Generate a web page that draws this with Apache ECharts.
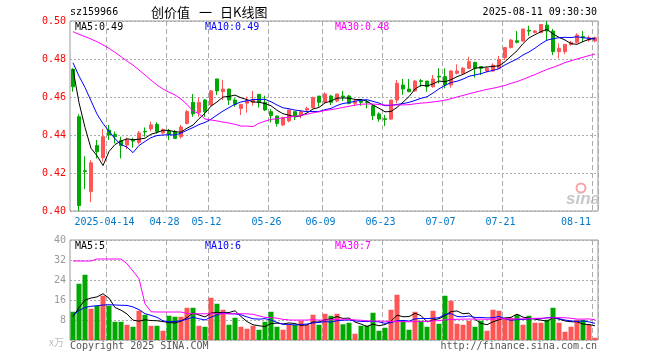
<!DOCTYPE html>
<html><head><meta charset="utf-8">
<script src="https://cdn.jsdelivr.net/npm/echarts@6/dist/echarts.min.js"></script>
<style>html,body{margin:0;padding:0;background:#fff}#c{width:660px;height:360px}</style>
</head><body><div id="c"></div>
<script>
// ---- data ----
const dates = [
 '2025-04-03','2025-04-07','2025-04-08','2025-04-09','2025-04-10','2025-04-11',
 '2025-04-14','2025-04-15','2025-04-16','2025-04-17','2025-04-18',
 '2025-04-21','2025-04-22','2025-04-23','2025-04-24','2025-04-25',
 '2025-04-28','2025-04-29','2025-04-30','2025-05-06','2025-05-07','2025-05-08','2025-05-09',
 '2025-05-12','2025-05-13','2025-05-14','2025-05-15','2025-05-16',
 '2025-05-19','2025-05-20','2025-05-21','2025-05-22','2025-05-23',
 '2025-05-26','2025-05-27','2025-05-28','2025-05-29','2025-05-30',
 '2025-06-03','2025-06-04','2025-06-05','2025-06-06',
 '2025-06-09','2025-06-10','2025-06-11','2025-06-12','2025-06-13',
 '2025-06-16','2025-06-17','2025-06-18','2025-06-19','2025-06-20',
 '2025-06-23','2025-06-24','2025-06-25','2025-06-26','2025-06-27',
 '2025-06-30','2025-07-01','2025-07-02','2025-07-03','2025-07-04',
 '2025-07-07','2025-07-08','2025-07-09','2025-07-10','2025-07-11',
 '2025-07-14','2025-07-15','2025-07-16','2025-07-17','2025-07-18',
 '2025-07-21','2025-07-22','2025-07-23','2025-07-24','2025-07-25',
 '2025-07-28','2025-07-29','2025-07-30','2025-07-31','2025-08-01',
 '2025-08-04','2025-08-05','2025-08-06','2025-08-07','2025-08-08',
 '2025-08-11'
];
const openP = [
 0.4746,0.4496,0.4212,0.4102,0.4344,0.4281,0.4426,0.4403,0.4370,0.4347,
 0.4375,0.4361,0.4419,0.4432,0.4456,0.4411,0.4421,0.4418,0.4391,0.4461,
 0.4572,0.4519,0.4584,0.4558,0.4695,0.4628,0.4642,0.4584,0.4540,0.4567,
 0.4572,0.4614,0.4572,0.4523,0.4500,0.4453,0.4474,0.4523,0.4505,0.4532,
 0.4544,0.4605,0.4572,0.4605,0.4579,0.4605,0.4605,0.4567,0.4579,0.4574,
 0.4554,0.4511,0.4486,0.4484,0.4584,0.4663,0.4642,0.4632,0.4686,0.4684,
 0.4654,0.4709,0.4707,0.4663,0.4725,0.4725,0.4751,0.4782,0.4760,0.4737,
 0.4737,0.4751,0.4807,0.4860,0.4896,0.4895,0.4951,0.4940,0.4940,0.4979,
 0.4947,0.4839,0.4839,0.4877,0.4888,0.4918,0.4900,0.4895
];
const closeP = [
 0.4654,0.4028,0.4208,0.4254,0.4312,0.4391,0.4400,0.4391,0.4344,0.4374,
 0.4368,0.4411,0.4416,0.4453,0.4418,0.4428,0.4404,0.4382,0.4442,0.4523,
 0.4511,0.4572,0.4523,0.4632,0.4632,0.4642,0.4584,0.4561,0.4561,0.4581,
 0.4584,0.4572,0.4532,0.4502,0.4461,0.4491,0.4532,0.4496,0.4523,0.4540,
 0.4596,0.4572,0.4616,0.4572,0.4616,0.4600,0.4567,0.4579,0.4572,0.4570,
 0.4502,0.4484,0.4482,0.4584,0.4672,0.4642,0.4628,0.4684,0.4682,0.4654,
 0.4695,0.4705,0.4663,0.4737,0.4737,0.4751,0.4786,0.4751,0.4751,0.4751,
 0.4768,0.4798,0.4860,0.4900,0.4888,0.4958,0.4947,0.4947,0.4982,0.4947,
 0.4839,0.4856,0.4877,0.4888,0.4926,0.4912,0.4912,0.4912
];
const lowP = [
 0.4628,0.4000,0.4116,0.4046,0.4277,0.4260,0.4374,0.4356,0.4277,0.4326,
 0.4333,0.4351,0.4391,0.4418,0.4407,0.4404,0.4374,0.4379,0.4382,0.4456,
 0.4496,0.4496,0.4496,0.4554,0.4611,0.4584,0.4558,0.4549,0.4505,0.4518,
 0.4554,0.4544,0.4526,0.4467,0.4444,0.4447,0.4467,0.4479,0.4488,0.4523,
 0.4540,0.4549,0.4567,0.4558,0.4572,0.4579,0.4561,0.4554,0.4554,0.4540,
 0.4479,0.4470,0.4447,0.4479,0.4567,0.4611,0.4625,0.4628,0.4654,0.4628,
 0.4649,0.4672,0.4646,0.4649,0.4719,0.4718,0.4747,0.4702,0.4716,0.4730,
 0.4733,0.4747,0.4795,0.4856,0.4882,0.4891,0.4923,0.4935,0.4935,0.4900,
 0.4821,0.4804,0.4825,0.4870,0.4882,0.4888,0.4891,0.4888
];
const highP = [
 0.4751,0.4509,0.4288,0.4268,0.4374,0.4432,0.4453,0.4418,0.4391,0.4386,
 0.4386,0.4421,0.4440,0.4470,0.4467,0.4435,0.4432,0.4426,0.4453,0.4532,
 0.4616,0.4598,0.4589,0.4637,0.4695,0.4689,0.4642,0.4593,0.4561,0.4602,
 0.4632,0.4614,0.4607,0.4537,0.4502,0.4496,0.4532,0.4523,0.4532,0.4549,
 0.4602,0.4605,0.4625,0.4611,0.4616,0.4632,0.4611,0.4589,0.4589,0.4584,
 0.4561,0.4519,0.4505,0.4584,0.4689,0.4695,0.4695,0.4689,0.4695,0.4684,
 0.4716,0.4751,0.4751,0.4742,0.4772,0.4758,0.4812,0.4786,0.4763,0.4760,
 0.4777,0.4816,0.4860,0.4905,0.4947,0.4958,0.4975,0.4953,0.4982,0.5000,
 0.4958,0.4882,0.4877,0.4895,0.4935,0.4947,0.4923,0.4917
];
// volume, in 万
const volume = [
 11.3,22.5,26.1,12.5,13.7,17.7,13.7,7.3,7.3,6.1,
 5.3,11.7,10.1,5.7,5.7,3.7,9.7,9.3,9.3,12.9,
 12.9,5.7,5.3,16.9,14.5,12.1,6.1,8.9,5.3,4.5,
 5.7,4.1,7.3,11.3,5.3,4.1,6.1,6.1,7.7,6.1,
 10.1,6.1,10.5,9.7,10.5,6.3,6.9,2.5,5.7,5.7,
 10.9,3.7,4.9,12.1,18.1,7.7,4.1,11.3,7.7,5.3,
 11.7,6.5,17.7,15.7,6.5,6.1,7.7,5.3,7.7,3.7,
 12.1,11.7,8.9,8.9,10.1,6.1,9.7,6.9,6.9,8.1,
 12.9,6.9,3.3,5.3,8.1,8.1,6.1,0.9
];
// moving-average values for the first days (prior history not shown)
const ma5Head = [0.4746,0.4570,0.4440,0.4330];
const ma10Head = [0.4780,0.4710,0.4650,0.4580,0.4510,0.4460,0.4420,0.4380,0.4350];
const ma30Head = [0.4944,0.4930,0.4918,0.4905,0.4891,0.4874,0.4856,0.4835,0.4812,0.4789,
 0.4768,0.4742,0.4716,0.4689,0.4663,0.4642,0.4625,0.4611,0.4589,0.4561,
 0.4526,0.4512,0.4484,0.4479,0.4474,0.4468,0.4463,0.4456,0.4447];
const volMa5Head = [9.3,13.0,16.0,16.8];
const volMa10Head = [10.0,11.8,13.0,13.5,13.7,14.0,14.1,14.0,13.9];
const volMa30Head = [31.6,31.6,31.6,31.6,32.4,32.4,32.4,32.4,32.4,30.5,
 27.6,24.5,14.5,11.3,11.2,11.2,11.2,11.2,11.2,10.6,
 10.5,10.5,10.5,10.5,10.5,10.5,10.5,10.5,10.5];
const tickDates = ['2025-04-14','2025-04-28','2025-05-12','2025-05-26','2025-06-09','2025-06-23','2025-07-07','2025-07-21','2025-08-11'];
const tickLabels = ['2025-04-14','04-28','05-12','05-26','06-09','06-23','07-07','07-21','08-11'];
const priceLegend = ['MA5:0.49', 'MA10:0.49', 'MA30:0.48'];
const volLegend = ['MA5:5', 'MA10:6', 'MA30:7'];

// ---- helpers ----
const MONO = '"DejaVu Sans Mono", "Liberation Mono", monospace';
const RED = '#ff5555', GREEN = '#00a800';
function movingAvg(values, n, head) {
  return values.map((v, i) => {
    if (i < head.length) return head[i];
    let s = 0; for (let k = i - n + 1; k <= i; k++) s += values[k];
    return +(s / n).toFixed(4);
  });
}
const ma5 = movingAvg(closeP, 5, ma5Head);
const ma10 = movingAvg(closeP, 10, ma10Head);
const ma30 = movingAvg(closeP, 30, ma30Head);
const vma5 = movingAvg(volume, 5, volMa5Head);
const vma10 = movingAvg(volume, 10, volMa10Head);
const vma30 = movingAvg(volume, 30, volMa30Head);
const candles = dates.map((d, i) => [openP[i], closeP[i], lowP[i], highP[i]]);
const volBars = volume.map((v, i) => ({value: v, itemStyle: {color: closeP[i] >= openP[i] ? RED : GREEN}}));
const isTick = (i, v) => tickDates.indexOf(v) >= 0;

function lineSeries(data, color, xi, yi) {
  return {type: 'line', data, xAxisIndex: xi, yAxisIndex: yi, symbol: 'none', showSymbol: false,
    lineStyle: {color, width: 1}, itemStyle: {color}, z: 5, animation: false, silent: true};
}
function txt(x, y, text, fill, extra) {
  return Object.assign({type: 'text', x, y, silent: true,
    style: Object.assign({text, fill, font: '10px ' + MONO, textVerticalAlign: 'middle'}, extra || {})});
}
const CJK = '13px "Noto Sans CJK SC"';

const chart = echarts.init(document.getElementById('c'), null, {renderer: 'canvas'});
chart.setOption({
  animation: false,
  backgroundColor: '#fff',
  grid: [
    {left: 70, top: 21, width: 528, height: 190, show: true, borderColor: '#999', borderWidth: 1},
    {left: 70, top: 240, width: 528, height: 100, show: true, borderColor: '#999', borderWidth: 1}
  ],
  xAxis: [
    {type: 'category', gridIndex: 0, data: dates, boundaryGap: true,
     axisLine: {show: false}, axisTick: {show: false},
     axisLabel: {interval: isTick, margin: 6, color: '#0078c8', fontFamily: MONO, fontSize: 10,
       formatter: v => { const k = tickDates.indexOf(v); return (k === tickDates.length - 1 ? '{e|' : '{a|') + tickLabels[k] + '}'; },
       rich: {a: {padding: [0, 9, 0, 0], color: '#0078c8', fontFamily: MONO, fontSize: 10},
              e: {padding: [0, 38, 0, 0], color: '#0078c8', fontFamily: MONO, fontSize: 10}}},
     splitLine: {show: true, interval: isTick, lineStyle: {color: '#aaa', type: [5, 3], width: 1}}},
    {type: 'category', gridIndex: 1, data: dates, boundaryGap: true,
     axisLine: {show: false}, axisTick: {show: false}, axisLabel: {show: false},
     splitLine: {show: true, interval: isTick, lineStyle: {color: '#aaa', type: [5, 3], width: 1}}}
  ],
  yAxis: [
    {type: 'value', gridIndex: 0, min: 0.40, max: 0.50, interval: 0.02,
     axisLine: {show: false}, axisTick: {show: false},
     axisLabel: {color: '#ff0000', fontFamily: MONO, fontSize: 10, margin: 4, formatter: v => v.toFixed(2)},
     splitLine: {lineStyle: {color: '#aaa', type: [2, 2], width: 1}}},
    {type: 'value', gridIndex: 1, min: 0, max: 40, interval: 8,
     axisLine: {show: false}, axisTick: {show: false},
     axisLabel: {color: '#999', fontFamily: MONO, fontSize: 10, margin: 4,
       formatter: v => v === 0 ? '{u|x万}' : String(v),
       rich: {u: {color: '#bbb', fontFamily: '"Noto Sans CJK SC"', fontSize: 10, padding: [4, 2, 0, 0]}}},
     splitLine: {lineStyle: {color: '#aaa', type: [2, 2], width: 1}}}
  ],
  series: [
    {type: 'candlestick', data: candles, xAxisIndex: 0, yAxisIndex: 0, barWidth: 4,
     itemStyle: {color: RED, color0: GREEN, borderColor: RED, borderColor0: GREEN, borderWidth: 1}, silent: true},
    lineSeries(ma5, '#000000', 0, 0),
    lineSeries(ma10, '#0000ff', 0, 0),
    lineSeries(ma30, '#ff00ff', 0, 0),
    {type: 'bar', data: volBars, xAxisIndex: 1, yAxisIndex: 1, barWidth: 5, silent: true},
    lineSeries(vma5, '#000000', 1, 1),
    lineSeries(vma10, '#0000ff', 1, 1),
    lineSeries(vma30, '#ff00ff', 1, 1)
  ],
  graphic: [
    txt(70, 12, 'sz159966', '#000'),
    txt(151, 12, '创价值', '#000', {font: CJK}),
    txt(199, 12, '一', '#000', {font: CJK}),
    txt(220, 12, '日K线图', '#000', {font: CJK}),
    txt(597, 12, '2025-08-11 09:30:30', '#000', {textAlign: 'right'}),
    txt(75, 27, priceLegend[0], '#000'),
    txt(205, 27, priceLegend[1], '#0000ff'),
    txt(335, 27, priceLegend[2], '#ff00ff'),
    txt(75, 246, volLegend[0], '#000'),
    txt(205, 246, volLegend[1], '#0000ff'),
    txt(335, 246, volLegend[2], '#ff00ff'),
    txt(70, 346, 'Copyright 2025 SINA.COM', '#555'),
    txt(597, 346, 'http://finance.sina.com.cn', '#555', {textAlign: 'right'}),
    {type: 'circle', shape: {cx: 581, cy: 188, r: 4.5}, silent: true,
     style: {fill: 'none', stroke: '#f4a6a6', lineWidth: 2}},
    txt(566, 199, 'sina', '#c8c8c8', {font: 'italic bold 17px "Liberation Sans", Arial'})
  ]
});
</script></body></html>
